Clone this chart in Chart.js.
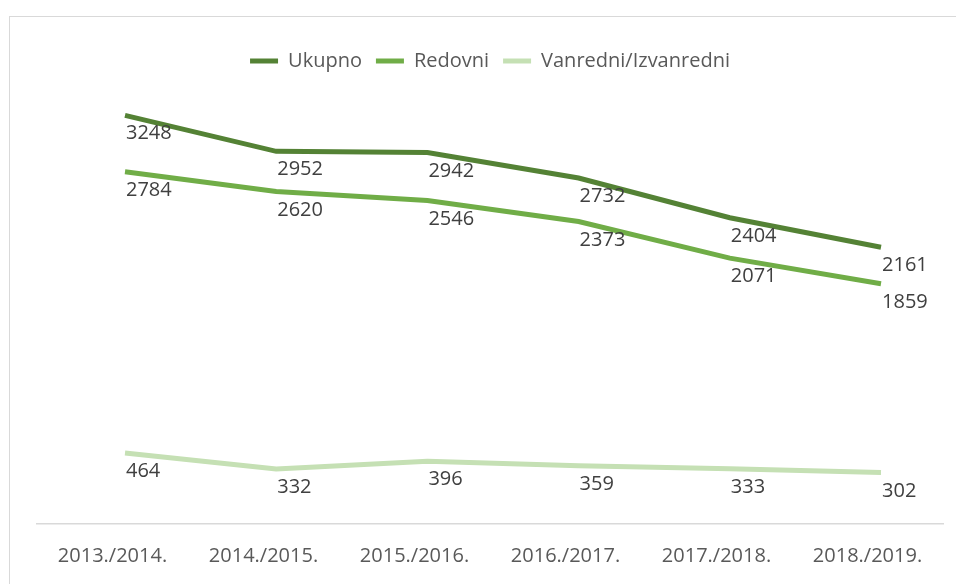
<!DOCTYPE html>
<html>
<head>
<meta charset="utf-8">
<script src="https://cdn.jsdelivr.net/npm/chart.js@4"></script>
<style>
    html, body { margin: 0; padding: 0; background: #fff; overflow: hidden; }
    body { width: 956px; height: 584px; position: relative; }
    .frame {
        position: absolute; left: 9px; top: 16px;
        width: 1000px; height: 600px;
        border: 1px solid #d9d9d9;
    }
    .frame canvas { position: absolute; left: 0; top: 0; }
</style>
</head>
<body>
<div class="frame">
    <canvas id="enrolChart" width="990" height="574"></canvas>
</div>
<script>
    'use strict';

    // Data
    const years = ['2013./2014.', '2014./2015.', '2015./2016.', '2016./2017.', '2017./2018.', '2018./2019.'];
    const ukupno = [3248, 2952, 2942, 2732, 2404, 2161];
    const redovni = [2784, 2620, 2546, 2373, 2071, 1859];
    const vanredni = [464, 332, 396, 359, 333, 302];

    const toPoints = (values) => values.map((v, i) => ({ x: i, y: v }));

    // Value labels, placed just below and right of each point
    const valueLabels = {
        id: 'valueLabels',
        afterDatasetsDraw(chart) {
            const ctx = chart.ctx;
            ctx.save();
            ctx.font = "20px 'Open Sans'";
            ctx.fillStyle = '#404040';
            ctx.textAlign = 'left';
            ctx.textBaseline = 'alphabetic';
            chart.data.datasets.forEach((ds, di) => {
                const meta = chart.getDatasetMeta(di);
                meta.data.forEach((pt, i) => {
                    ctx.fillText(String(ds.data[i].y), pt.x + 1, pt.y + 24);
                });
            });
            ctx.restore();
        }
    };

    Chart.defaults.font.family = "'Open Sans', sans-serif";
    Chart.defaults.color = '#595959';

    const ctx = document.getElementById('enrolChart').getContext('2d');
    new Chart(ctx, {
        type: 'line',
        data: {
            labels: years,
            datasets: [{
                label: 'Ukupno',
                data: toPoints(ukupno),
                borderColor: '#548235',
                backgroundColor: '#548235',
                xAxisID: 'xData'
            }, {
                label: 'Redovni',
                data: toPoints(redovni),
                borderColor: '#70ad47',
                backgroundColor: '#70ad47',
                xAxisID: 'xData'
            }, {
                label: 'Vanredni/Izvanredni',
                data: toPoints(vanredni),
                borderColor: '#c5e0b4',
                backgroundColor: '#c5e0b4',
                xAxisID: 'xData'
            }]
        },
        options: {
            responsive: false,
            animation: false,
            elements: {
                line: { borderWidth: 5, tension: 0, borderCapStyle: 'butt', borderJoinStyle: 'miter' },
                point: { radius: 0, hoverRadius: 0 }
            },
            layout: {
                padding: { top: 20, left: 27, right: 57, bottom: 3 }
            },
            plugins: {
                legend: {
                    position: 'top',
                    labels: {
                        boxWidth: 28,
                        boxHeight: 5,
                        padding: 14,
                        color: '#595959',
                        font: { size: 20 },
                        generateLabels(chart) {
                            return chart.data.datasets.map((ds, i) => ({
                                text: ds.label,
                                fillStyle: ds.borderColor,
                                strokeStyle: ds.borderColor,
                                lineWidth: 0,
                                fontColor: '#595959',
                                datasetIndex: i
                            }));
                        }
                    }
                },
                tooltip: { enabled: false }
            },
            scales: {
                x: {
                    type: 'category',
                    offset: true,
                    grid: { display: true, drawOnChartArea: false, drawTicks: false },
                    border: { display: true, color: '#d9d9d9', width: 1.5 },
                    ticks: { color: '#595959', font: { size: 20 }, padding: 20, maxRotation: 0 }
                },
                xData: {
                    type: 'linear',
                    display: false,
                    min: -0.582,
                    max: 5.41
                },
                y: {
                    display: false,
                    min: -122,
                    max: 3532
                }
            }
        },
        plugins: [valueLabels]
    });
</script>
</body>
</html>
